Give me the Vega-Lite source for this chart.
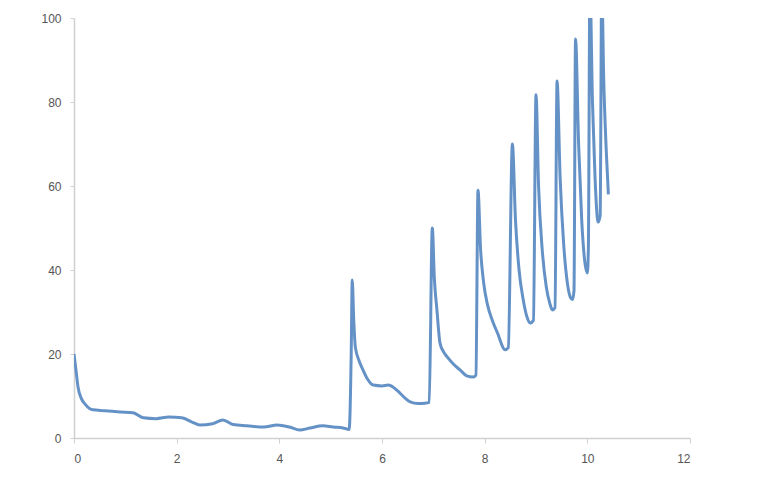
{
  "$schema": "https://vega.github.io/schema/vega-lite/v6.json",
  "autosize": {"type": "none"},
  "width": 616,
  "height": 420,
  "padding": {"left": 74, "top": 18, "right": 91, "bottom": 48},
  "background": "white",
  "config": {"view": {"stroke": null}},
  "data": {"values": [
    {"x": 0.00, "y": 20}, {"x": 0.04, "y": 16}, {"x": 0.08, "y": 12}, {"x": 0.14, "y": 9.5},
    {"x": 0.22, "y": 8}, {"x": 0.37, "y": 6.7}, {"x": 0.6, "y": 6.5}, {"x": 0.9, "y": 6.2},
    {"x": 1.15, "y": 6}, {"x": 1.35, "y": 4.8}, {"x": 1.6, "y": 4.6}, {"x": 1.85, "y": 5},
    {"x": 2.1, "y": 4.8}, {"x": 2.3, "y": 3.8}, {"x": 2.45, "y": 3.1}, {"x": 2.7, "y": 3.4},
    {"x": 2.9, "y": 4.3}, {"x": 3.1, "y": 3.2}, {"x": 3.37, "y": 2.9}, {"x": 3.7, "y": 2.6},
    {"x": 3.96, "y": 3.1}, {"x": 4.2, "y": 2.6}, {"x": 4.4, "y": 1.9}, {"x": 4.6, "y": 2.4},
    {"x": 4.85, "y": 2.9}, {"x": 5.05, "y": 2.6}, {"x": 5.24, "y": 2.4}, {"x": 5.36, "y": 2},
    {"x": 5.40, "y": 20}, {"x": 5.42, "y": 37.6}, {"x": 5.45, "y": 28}, {"x": 5.48, "y": 21.7},
    {"x": 5.55, "y": 18.5}, {"x": 5.63, "y": 16.2}, {"x": 5.72, "y": 14}, {"x": 5.83, "y": 12.6},
    {"x": 6.0, "y": 12.4}, {"x": 6.12, "y": 12.6}, {"x": 6.25, "y": 11.8}, {"x": 6.35, "y": 10.7},
    {"x": 6.45, "y": 9.5}, {"x": 6.55, "y": 8.6}, {"x": 6.7, "y": 8.2}, {"x": 6.84, "y": 8.3},
    {"x": 6.92, "y": 8.5}, {"x": 6.98, "y": 50}, {"x": 7.02, "y": 38}, {"x": 7.07, "y": 30.5},
    {"x": 7.13, "y": 22.6}, {"x": 7.2, "y": 20.5}, {"x": 7.27, "y": 19.3}, {"x": 7.4, "y": 17.5},
    {"x": 7.52, "y": 16.2}, {"x": 7.65, "y": 14.8}, {"x": 7.78, "y": 14.5}, {"x": 7.83, "y": 15},
    {"x": 7.87, "y": 59}, {"x": 7.92, "y": 45}, {"x": 7.98, "y": 37}, {"x": 8.05, "y": 32},
    {"x": 8.15, "y": 28}, {"x": 8.25, "y": 25}, {"x": 8.4, "y": 21}, {"x": 8.46, "y": 21.5},
    {"x": 8.54, "y": 70}, {"x": 8.6, "y": 52}, {"x": 8.67, "y": 40}, {"x": 8.75, "y": 33},
    {"x": 8.82, "y": 29}, {"x": 8.89, "y": 27.4}, {"x": 8.95, "y": 28}, {"x": 9.0, "y": 81.7},
    {"x": 9.05, "y": 60}, {"x": 9.12, "y": 45}, {"x": 9.2, "y": 36}, {"x": 9.27, "y": 32},
    {"x": 9.32, "y": 30.5}, {"x": 9.37, "y": 31}, {"x": 9.41, "y": 85}, {"x": 9.47, "y": 62},
    {"x": 9.54, "y": 46}, {"x": 9.61, "y": 37}, {"x": 9.67, "y": 33.5}, {"x": 9.71, "y": 33},
    {"x": 9.74, "y": 35}, {"x": 9.77, "y": 95}, {"x": 9.83, "y": 70}, {"x": 9.89, "y": 52},
    {"x": 9.95, "y": 42}, {"x": 10.0, "y": 39.3}, {"x": 10.02, "y": 45}, {"x": 10.05, "y": 108},
    {"x": 10.1, "y": 80}, {"x": 10.15, "y": 62}, {"x": 10.21, "y": 51.4}, {"x": 10.25, "y": 53},
    {"x": 10.28, "y": 108}, {"x": 10.32, "y": 85}, {"x": 10.37, "y": 68}, {"x": 10.41, "y": 58}
  ]},
  "mark": {"type": "line", "color": "#6592c6", "strokeWidth": 3, "clip": true, "interpolate": "monotone"},
  "encoding": {
    "x": {
      "field": "x", "type": "quantitative",
      "scale": {"domain": [0, 12], "nice": false, "zero": false},
      "axis": {
        "title": null, "values": [0, 2, 4, 6, 8, 10, 12], "grid": false,
        "domainColor": "#d0d0d0", "domainWidth": 1.5,
        "tickColor": "#d0d0d0", "tickSize": 5, "labelPadding": 10,
        "labelColor": "#555555", "labelFontSize": 12, "labelFont": "Liberation Sans"
      }
    },
    "y": {
      "field": "y", "type": "quantitative",
      "scale": {"domain": [0, 100], "nice": false},
      "axis": {
        "title": null, "values": [0, 20, 40, 60, 80, 100], "grid": false,
        "domainColor": "#d0d0d0", "domainWidth": 1.5,
        "tickColor": "#d0d0d0", "tickSize": 4, "labelPadding": 9,
        "labelColor": "#555555", "labelFontSize": 12, "labelFont": "Liberation Sans"
      }
    }
  }
}
